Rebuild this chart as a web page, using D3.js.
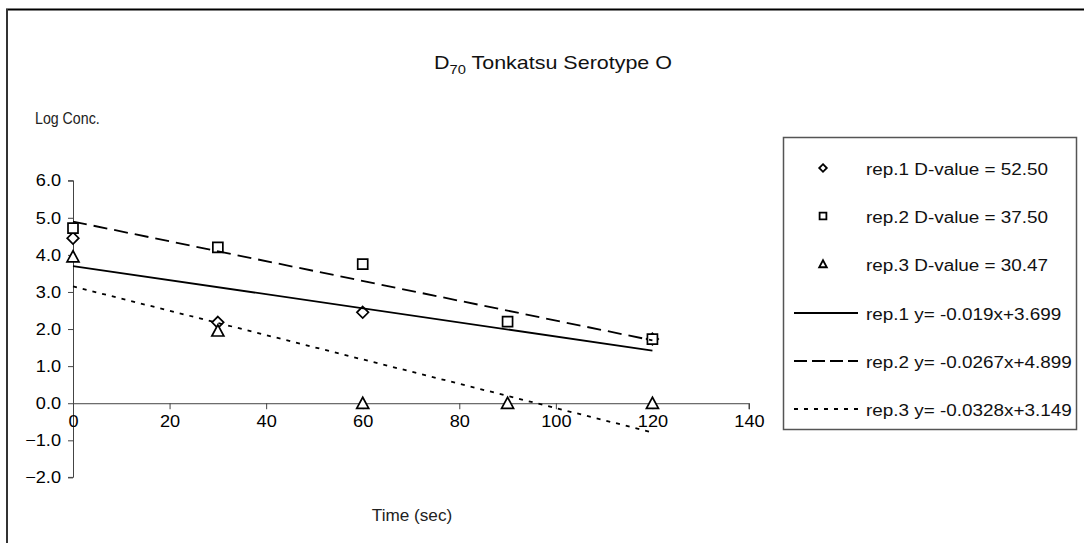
<!DOCTYPE html>
<html>
<head>
<meta charset="utf-8">
<script src="https://cdn.jsdelivr.net/npm/d3@7"></script>
<style>
  html, body { margin: 0; padding: 0; background: #fff; }
  svg { display: block; font-family: "Liberation Sans", Arial, sans-serif; }
</style>
</head>
<body>
<svg id="chart" width="1084" height="543"></svg>
<script>
// Sampling times (sec)
const times = [0, 30, 60, 90, 120];
// Log concentration per replicate (null = no reading)
const rep1 = [4.45, 2.18, 2.45, null, 1.73];
const rep2 = [4.72, 4.20, 3.75, 2.20, 1.73];
const rep3 = [3.95, 1.95, 0.00, 0.00, 0.00];
// Fitted regression lines y = slope*x + intercept
const fitNames = ["rep.1", "rep.2", "rep.3"];
const fitSlopes = [-0.019, -0.0267, -0.0328];
const fitIntercepts = [3.699, 4.899, 3.149];
const fitRange = [0, 120];
// D-values shown in the legend
const dValues = ["52.50", "37.50", "30.47"];
// Axis ticks
const xTicks = [0, 20, 40, 60, 80, 100, 120, 140];
const yTicks = [-2, -1, 0, 1, 2, 3, 4, 5, 6];

const svg = d3.select("#chart");

// widen or narrow glyphs horizontally by factor f
function stretch(sel, f) {
  sel.each(function () {
    const w = this.getComputedTextLength();
    d3.select(this).attr("textLength", w * f).attr("lengthAdjust", "spacingAndGlyphs");
  });
}

// outer frame (top and left edges)
svg.append("line").attr("x1", 6).attr("x2", 1084).attr("y1", 9.5).attr("y2", 9.5)
  .attr("stroke", "#000").attr("stroke-width", 2);
svg.append("line").attr("x1", 7).attr("x2", 7).attr("y1", 9).attr("y2", 543)
  .attr("stroke", "#333").attr("stroke-width", 2);

const x = d3.scaleLinear().domain([0, 140]).range([73, 749]);
const y = d3.scaleLinear().domain([-2, 6]).range([477.4, 180.7]);

// title with subscript
const title = svg.append("text").attr("x", 553).attr("y", 69)
  .attr("text-anchor", "middle").attr("font-size", 19).attr("fill", "#111");
title.append("tspan").text("D");
title.append("tspan").attr("font-size", 13).attr("dy", 5).text("70");
title.append("tspan").attr("dy", -5).text(" Tonkatsu Serotype O");
stretch(title, 1.13);

const yTitle = svg.append("text").attr("x", 35).attr("y", 124)
  .attr("font-size", 16.5).attr("fill", "#222").text("Log Conc.");
stretch(yTitle, 0.86);

const xTitle = svg.append("text").attr("x", 412).attr("y", 521)
  .attr("text-anchor", "middle").attr("font-size", 16.5).attr("fill", "#222").text("Time (sec)");
stretch(xTitle, 1.04);

// y axis
const yAxis = svg.append("g").attr("transform", `translate(${x(0)},0)`)
  .call(d3.axisLeft(y).tickValues(yTicks).tickFormat(d3.format(".1f")).tickSize(5).tickPadding(7));
yAxis.select(".domain").attr("stroke", "#444").attr("d", `M-5,${y(6)}H0.5V${y(-2)}H-5`);
yAxis.selectAll(".tick line").attr("stroke", "#444");
yAxis.selectAll(".tick text").attr("font-size", 16.5).attr("fill", "#000")
  .attr("font-family", "Liberation Sans, Arial, sans-serif");
stretch(yAxis.selectAll(".tick text"), 1.1);

// x axis crossing at y = 0
const xAxis = svg.append("g").attr("transform", `translate(0,${y(0)})`)
  .call(d3.axisBottom(x).tickValues(xTicks).tickSize(6).tickPadding(14));
xAxis.select(".domain").attr("stroke", "#444").attr("d", `M${x(0)},0.5H${x(140)}V6`);
xAxis.selectAll(".tick line").attr("stroke", "#444").attr("y1", 0).attr("y2", 6);
xAxis.selectAll(".tick text").attr("font-size", 16.5).attr("fill", "#000")
  .attr("font-family", "Liberation Sans, Arial, sans-serif").attr("dy", "0.2em");
stretch(xAxis.selectAll(".tick text"), 1.1);

// marker shapes
const shapes = [
  { data: rep1, path: s => `M0,${-s}L${s},0L0,${s}L${-s},0Z` },
  { data: rep2, path: s => `M${-s},${-s}H${s}V${s}H${-s}Z` },
  { data: rep3, path: s => `M0,${-s}L${s},${s * 0.85}H${-s}Z` }
];
const sizes = [5.8, 5, 6];
const plot = svg.append("g");

shapes.forEach((sh, i) => {
  plot.append("g").selectAll("path")
    .data(times.map((t, j) => ({ t, v: sh.data[j] })).filter(d => d.v !== null))
    .join("path")
    .attr("transform", d => `translate(${x(d.t)},${y(d.v)})`)
    .attr("d", sh.path(sizes[i]))
    .attr("fill", "#fff").attr("stroke", "#000").attr("stroke-width", 1.7);
});

// regression lines
const dashes = [null, "14,7", "4,6"];
fitSlopes.forEach((m, i) => {
  const pts = fitRange.map(t => [x(t), y(m * t + fitIntercepts[i])]);
  plot.append("path").attr("d", d3.line()(pts))
    .attr("fill", "none").attr("stroke", "#000").attr("stroke-width", 1.8)
    .attr("stroke-dasharray", dashes[i]);
});

// legend
const lg = svg.append("g");
lg.append("rect").attr("x", 783.5).attr("y", 137.5).attr("width", 293).attr("height", 292)
  .attr("fill", "#fff").attr("stroke", "#555").attr("stroke-width", 1.5);
const rowY = i => 169 + i * 48;
const legendSizes = [3.8, 3.4, 3.8];
shapes.forEach((sh, i) => {
  lg.append("path").attr("transform", `translate(823,${rowY(i) - 1})`)
    .attr("d", sh.path(legendSizes[i]))
    .attr("fill", "#fff").attr("stroke", "#000").attr("stroke-width", 1.8);
  const t = lg.append("text").attr("x", 866).attr("y", rowY(i)).attr("dy", "0.35em")
    .attr("font-size", 16).attr("fill", "#111")
    .text(`${fitNames[i]} D-value = ${dValues[i]}`);
  stretch(t, 1.18);
});
fitSlopes.forEach((m, i) => {
  const ry = rowY(i + 3);
  lg.append("line").attr("x1", 794).attr("x2", 858).attr("y1", ry).attr("y2", ry)
    .attr("stroke", "#000").attr("stroke-width", 2)
    .attr("stroke-dasharray", i === 0 ? null : (i === 1 ? "13,5" : "4,6"));
  const t = lg.append("text").attr("x", 866).attr("y", ry + 1).attr("dy", "0.35em")
    .attr("font-size", 16).attr("fill", "#111")
    .text(`${fitNames[i]} y= ${m}x+${fitIntercepts[i]}`);
  stretch(t, 1.18);
});
</script>
</body>
</html>
